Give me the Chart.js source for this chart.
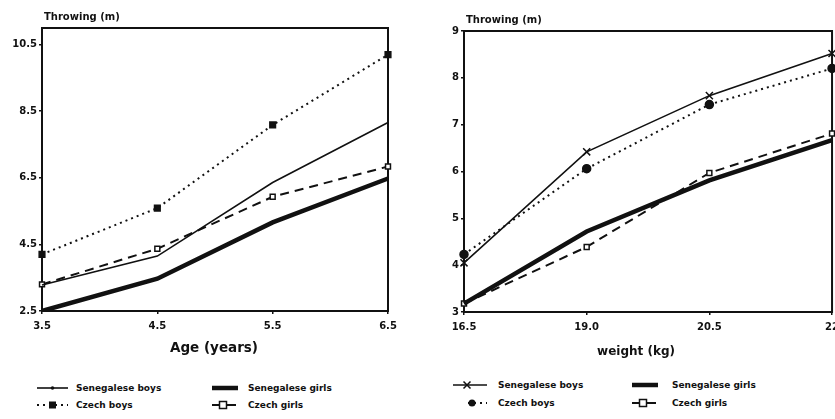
<!DOCTYPE html>
<html>
<head>
<meta charset="utf-8">
<script src="https://cdn.jsdelivr.net/npm/chart.js@4/dist/chart.umd.min.js"></script>
<style>
html, body { margin: 0; padding: 0; background: #fff; overflow: hidden; width: 835px; height: 419px; }
body { position: relative; font-family: "DejaVu Sans", sans-serif; color: #111; }
canvas { position: absolute; top: 0; }
#ageChart { left: 0; }
#weightChart { left: 415px; }
.item { position: absolute; height: 12px; display: flex; align-items: center; white-space: nowrap; font-weight: bold; font-size: 9px; }
.item svg { display: block; }
</style>
</head>
<body>
<canvas id="ageChart" width="410" height="365"></canvas>
<canvas id="weightChart" width="430" height="365"></canvas>
<div id="legends"></div>
<script>
// Left panel: throwing by age
const ageLabels = ['3.5', '4.5', '5.5', '6.5'];
const ageTicks = [2.5, 4.5, 6.5, 8.5, 10.5];
const ageSenegaleseBoys = [3.28, 4.15, 6.36, 8.16];
const ageSenegaleseGirls = [2.5, 3.47, 5.16, 6.48];
const ageCzechBoys = [4.2, 5.59, 8.09, 10.2];
const ageCzechGirls = [3.3, 4.37, 5.93, 6.84];

// Right panel: throwing by weight
const weightLabels = ['16.5', '19.0', '20.5', '22'];
const weightTicks = [3, 4, 5, 6, 7, 8, 9];
const weightSenegaleseBoys = [4.05, 6.42, 7.62, 8.52];
const weightSenegaleseGirls = [3.18, 4.72, 5.81, 6.67];
const weightCzechBoys = [4.23, 6.06, 7.43, 8.2];
const weightCzechGirls = [3.18, 4.39, 5.97, 6.81];

const INK = '#111';
Chart.defaults.font.family = '"DejaVu Sans", sans-serif';
Chart.defaults.font.size = 10;
Chart.defaults.font.weight = 'bold';
Chart.defaults.color = INK;

// line looks shared by chart and legend
const lineStyles = {
    senBoys: { borderWidth: 1.6, borderDash: [] },
    senGirls: { borderWidth: 4.5, borderDash: [] },
    czBoys: { borderWidth: 2, borderDash: [2, 4] },
    czGirls: { borderWidth: 2, borderDash: [9, 6] }
};

function dataset(label, data, style, point) {
    return Object.assign({
        label: label,
        data: data,
        borderColor: INK,
        backgroundColor: INK,
        fill: false,
        tension: 0,
        pointRadius: 0,
        pointBorderColor: INK,
        pointBorderWidth: 1.5
    }, style, point || {});
}

// frame round the plot, plus the two axis titles
const framePlugin = {
    id: 'frame',
    beforeDatasetsDraw(chart) {
        const { ctx, chartArea: a } = chart;
        ctx.save();
        ctx.strokeStyle = INK;
        ctx.lineWidth = 2;
        ctx.strokeRect(a.left, a.top, a.right - a.left, a.bottom - a.top);
        ctx.restore();
    },
    afterDraw(chart, args, opts) {
        const { ctx, chartArea: a } = chart;
        ctx.save();
        ctx.fillStyle = INK;
        ctx.textBaseline = 'middle';
        ctx.font = 'bold 10px "DejaVu Sans", sans-serif';
        ctx.textAlign = 'left';
        ctx.fillText(opts.yTitle, a.left + 2, a.top - 11);
        ctx.font = 'bold ' + opts.xTitleSize + 'px "DejaVu Sans", sans-serif';
        ctx.textAlign = 'center';
        ctx.fillText(opts.xTitle, (a.left + a.right) / 2 + opts.xTitleShift, a.bottom + opts.xTitleDrop);
        ctx.restore();
    }
};

function makeChart(id, labels, ticks, yMin, yMax, datasets, pad, yWidth, xHeight, titles) {
    return new Chart(document.getElementById(id), {
        type: 'line',
        data: { labels: labels, datasets: datasets },
        plugins: [framePlugin],
        options: {
            responsive: false,
            animation: false,
            layout: { padding: pad },
            plugins: {
                legend: { display: false },
                tooltip: { enabled: false },
                frame: titles
            },
            scales: {
                x: {
                    type: 'category',
                    offset: false,
                    grid: { drawOnChartArea: false, tickLength: 3, color: INK, lineWidth: 1.5 },
                    border: { display: true, color: INK, width: 2 },
                    ticks: { padding: 6, maxRotation: 0, autoSkip: false },
                    afterFit: s => { s.height = xHeight; }
                },
                y: {
                    type: 'linear',
                    min: yMin,
                    max: yMax,
                    afterBuildTicks: s => { s.ticks = ticks.map(v => ({ value: v })); },
                    grid: { drawOnChartArea: false, tickLength: 3, color: INK, lineWidth: 1.5 },
                    border: { display: true, color: INK, width: 2 },
                    ticks: { padding: 2 },
                    afterFit: s => { s.width = yWidth; }
                }
            }
        }
    });
}

makeChart('ageChart', ageLabels, ageTicks, 2.5, 11, [
    dataset('Senegalese boys', ageSenegaleseBoys, lineStyles.senBoys),
    dataset('Senegalese girls', ageSenegaleseGirls, lineStyles.senGirls),
    dataset('Czech boys', ageCzechBoys, lineStyles.czBoys, { pointStyle: 'rect', pointRadius: 4 }),
    dataset('Czech girls', ageCzechGirls, lineStyles.czGirls, { pointStyle: 'rect', pointRadius: 3.5, pointBackgroundColor: '#fff' })
], { top: 28, right: 22, left: 0, bottom: 0 }, 42, 54,
   { yTitle: 'Throwing (m)', xTitle: 'Age (years)', xTitleSize: 13.5, xTitleShift: -1, xTitleDrop: 37 });

makeChart('weightChart', weightLabels, weightTicks, 3, 9, [
    dataset('Senegalese boys', weightSenegaleseBoys, lineStyles.senBoys, { pointStyle: 'crossRot', pointRadius: 5 }),
    dataset('Senegalese girls', weightSenegaleseGirls, lineStyles.senGirls),
    dataset('Czech boys', weightCzechBoys, lineStyles.czBoys, { pointStyle: 'circle', pointRadius: 4 }),
    dataset('Czech girls', weightCzechGirls, lineStyles.czGirls, { pointStyle: 'rect', pointRadius: 3.5, pointBackgroundColor: '#fff' })
], { top: 31, right: 12, left: 0, bottom: 0 }, 49, 53,
   { yTitle: 'Throwing (m)', xTitle: 'weight (kg)', xTitleSize: 12, xTitleShift: -12, xTitleDrop: 40 });

// legend sample: a short line with an optional marker
function sampleSvg(w, style, marker, mx) {
    let s = '<svg width="' + w + '" height="12">';
    s += '<line x1="0" y1="6" x2="' + w + '" y2="6" stroke="' + INK + '" stroke-width="' + style.borderWidth +
         '" stroke-dasharray="' + style.borderDash.join(' ') + '"/>';
    const cx = mx !== undefined ? mx : w / 2;
    if (marker === 'dot') s += '<circle cx="' + cx + '" cy="6" r="1.8" fill="' + INK + '"/>';
    if (marker === 'rect') s += '<rect x="' + (cx - 3.5) + '" y="2.5" width="7" height="7" fill="' + INK + '"/>';
    if (marker === 'circle') s += '<circle cx="' + cx + '" cy="6" r="3.5" fill="' + INK + '"/>';
    if (marker === 'openRect') s += '<rect x="' + (cx - 3.5) + '" y="2.5" width="7" height="7" fill="#fff" stroke="' + INK + '" stroke-width="1.5"/>';
    if (marker === 'cross') s += '<path d="M' + (cx - 3.5) + ' 2.5 L' + (cx + 3.5) + ' 9.5 M' + (cx + 3.5) + ' 2.5 L' + (cx - 3.5) + ' 9.5" stroke="' + INK + '" stroke-width="1.5"/>';
    return s + '</svg>';
}

const legendItems = [
    { x: 37, y: 388, w: 31, textX: 76, text: 'Senegalese boys', style: lineStyles.senBoys, marker: 'dot' },
    { x: 37, y: 405, w: 31, textX: 76, text: 'Czech boys', style: lineStyles.czBoys, marker: 'rect' },
    { x: 212, y: 388, w: 26, textX: 248, text: 'Senegalese girls', style: lineStyles.senGirls, marker: 'none' },
    { x: 212, y: 405, w: 26, textX: 248, text: 'Czech girls', style: lineStyles.czGirls, marker: 'openRect', mx: 11 },
    { x: 453, y: 385, w: 34, textX: 498, text: 'Senegalese boys', style: lineStyles.senBoys, marker: 'cross', mx: 14 },
    { x: 468, y: 403, w: 19, textX: 498, text: 'Czech boys', style: lineStyles.czBoys, marker: 'circle', mx: 4 },
    { x: 632, y: 385, w: 26, textX: 672, text: 'Senegalese girls', style: lineStyles.senGirls, marker: 'none' },
    { x: 632, y: 403, w: 26, textX: 672, text: 'Czech girls', style: lineStyles.czGirls, marker: 'openRect', mx: 11 }
];

const holder = document.getElementById('legends');
legendItems.forEach(it => {
    const div = document.createElement('div');
    div.className = 'item';
    div.style.left = it.x + 'px';
    div.style.top = (it.y - 6) + 'px';
    div.innerHTML = sampleSvg(it.w, it.style, it.marker, it.mx) +
        '<span style="margin-left:' + (it.textX - it.x - it.w) + 'px">' + it.text + '</span>';
    holder.appendChild(div);
});
</script>
</body>
</html>
